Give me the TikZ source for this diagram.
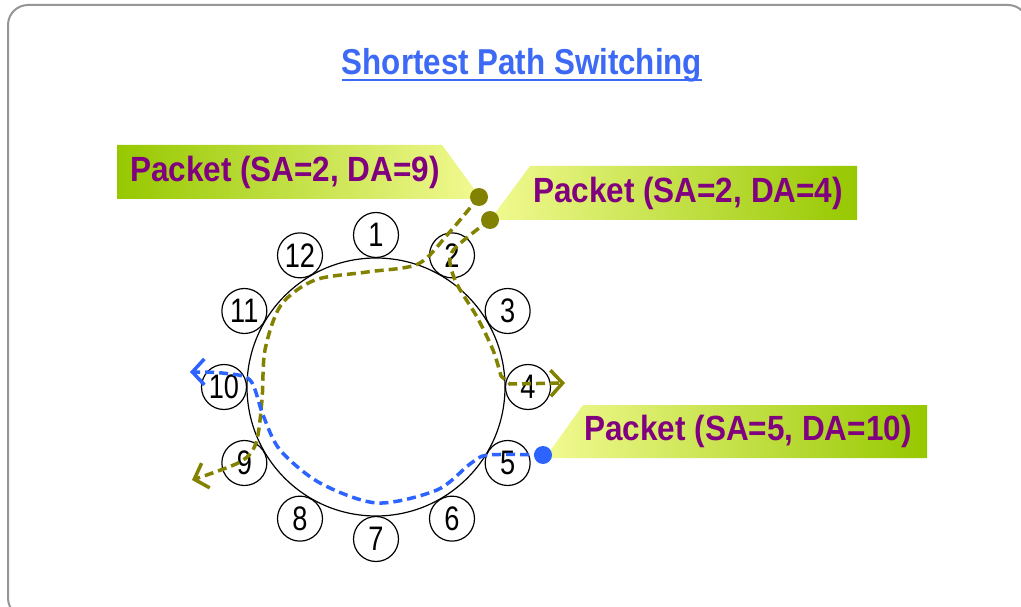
\documentclass[tikz,border=0pt]{standalone}
\usepackage{fontspec}
\setmainfont{Liberation Sans}
\newfontfamily\titlefont[FakeStretch=0.87]{Liberation Sans}
\newfontfamily\packetfont[FakeStretch=0.9]{Liberation Sans}
\newfontfamily\numfont[FakeStretch=0.8]{Liberation Sans}
\usetikzlibrary{arrows.meta}
\definecolor{titleblue}{RGB}{60,105,245}
\definecolor{pathblue}{RGB}{45,100,255}
\definecolor{oliveroute}{RGB}{130,130,0}
\definecolor{packetpurple}{RGB}{128,0,128}
\definecolor{bannergreen}{RGB}{150,200,0}
\definecolor{banneryellow}{RGB}{242,250,145}
\definecolor{framegray}{RGB}{150,150,150}
\tikzset{
  station/.style={circle,draw,line width=1.2pt,minimum size=45pt,inner sep=0pt,font=\numfont\fontsize{34}{34}\selectfont},
  packettext/.style={text=packetpurple,font=\packetfont\bfseries\fontsize{35}{35}\selectfont,inner sep=0pt},
  packetdot/.style={circle,minimum size=18pt,inner sep=0pt},
  route/.style={line width=3.5pt,dash pattern=on 9pt off 5pt},
  routetip/.style={-{Straight Barb[length=12pt,width=26pt]}}
}
\begin{document}
\begin{tikzpicture}[x=1pt,y=-1pt]
\clip (0,0) rectangle (1021,607);
\fill[white] (0,0) rectangle (1021,607);
\draw[framegray,line width=2pt,rounded corners=20pt] (8,5) rectangle (1028,618);

\node[text=titleblue,font=\titlefont\bfseries\fontsize{36}{36}\selectfont,anchor=base,inner sep=0pt] (title) at (522,75) {Shortest Path Switching};
\draw[titleblue,line width=1.5pt] ([yshift=-5pt]title.base west) -- ([yshift=-5pt]title.base east);

% ring of stations
\coordinate (hub) at (376,387);
\draw[line width=1.2pt] (hub) circle (129pt);
\foreach \i in {1,...,12}
  \node[station] (n\i) at ([shift={(30*\i-120:152)}]hub) {\i};

% banners
\shade[left color=bannergreen,right color=banneryellow] (117,145) -- (442,145) -- (480,197) -- (474,199) -- (117,199) -- cycle;
\shade[left color=banneryellow,right color=bannergreen] (530,166) -- (857,166) -- (857,220) -- (490,220) -- cycle;
\shade[left color=banneryellow,right color=bannergreen] (583,405) -- (927,405) -- (927,458) -- (545,458) -- cycle;

\node[packetdot] (d29) at (479,197) {};
\node[packetdot] (d24) at (490,220) {};
\node[packetdot] (d510) at (543,455) {};
\coordinate (e29) at (192,480);
\coordinate (e24) at (565,383);
\coordinate (e510) at (190,372);

% routes
\draw[route,oliveroute,routetip] plot[smooth] coordinates{(d29.center) (448,234) (418,264) (367,272) (315,280) (281,305) (265,350) (262,400) (256,443) (240,462) (e29)};
\draw[route,oliveroute,routetip] plot[smooth] coordinates{(d24.center) (452,252) (455,280) (477,317) (493,350) (501,376)} -- (510,384) -- (e24);
\draw[route,pathblue,routetip] plot[smooth] coordinates{(d510.center) (488,455) (470,464) (437,490) (377,503) (320,483) (280,450) (263,415) (250,380) (222,373) (e510)};

\fill[oliveroute] (d29) circle (9pt);
\fill[oliveroute] (d24) circle (9pt);
\fill[pathblue] (d510) circle (9pt);

\node[packettext] (p29) at (285,172) {Packet (SA=2, DA=9)};
\node[packettext] (p24) at (688,193) {Packet (SA=2, DA=4)};
\node[packettext] (p510) at (748,431) {Packet (SA=5, DA=10)};
\end{tikzpicture}
\end{document}
